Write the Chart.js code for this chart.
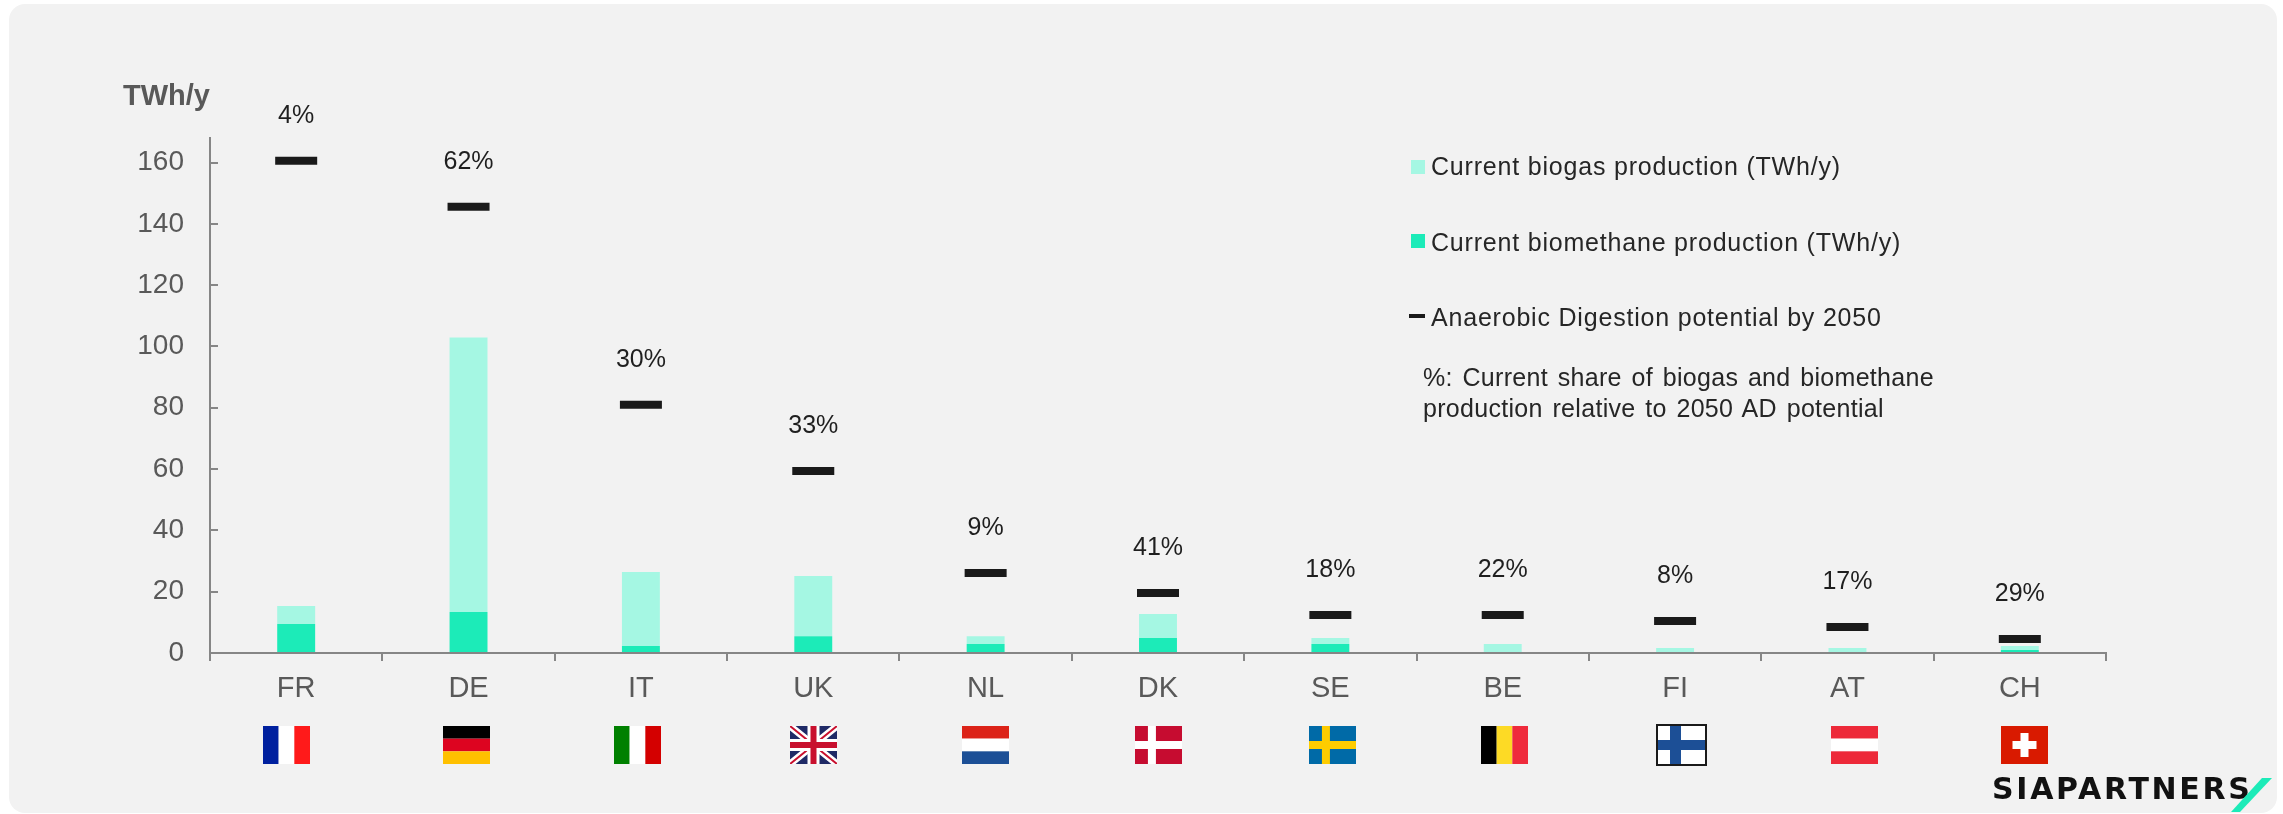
<!DOCTYPE html>
<html>
<head>
<meta charset="utf-8">
<script src="https://cdn.jsdelivr.net/npm/chart.js@4"></script>
<style>
  html, body { margin: 0; padding: 0; background: #fff; }
  #wrap { position: relative; width: 2283px; height: 814px; overflow: hidden; font-family: "Liberation Sans", Arial, sans-serif; }
  #panel { position: absolute; left: 9px; top: 4px; width: 2268px; height: 809px; background: #f2f2f2; border-radius: 16px; }
  canvas { position: absolute; left: 0; top: 0; }
  .txt { position: absolute; white-space: nowrap; color: #262626; font-size: 25px; line-height: 30px; letter-spacing: 0.8px; }
  .note { letter-spacing: 0.3px; word-spacing: 2.5px; }
  .swatch { position: absolute; width: 14px; height: 14px; }
  #unit { position: absolute; left: 123px; top: 78px; font-size: 29px; line-height: 34px; font-weight: bold; color: #595959; }
  #logo { position: absolute; left: 1992px; top: 771px; font-family: "DejaVu Sans", sans-serif; font-size: 30px; line-height: 36px; font-weight: bold; color: #111; letter-spacing: 2.7px; filter: blur(0.6px); }
</style>
</head>
<body>
<div id="wrap">
  <div id="panel"></div>
  <canvas id="chart" width="2283" height="814"></canvas>
  <div id="unit">TWh/y</div>

  <div class="swatch" style="left:1411px;top:160px;background:#a5f7e3"></div>
  <div class="txt" style="left:1431px;top:151px">Current biogas production (TWh/y)</div>
  <div class="swatch" style="left:1411px;top:234px;background:#1cebb8"></div>
  <div class="txt" style="left:1431px;top:227px">Current biomethane production (TWh/y)</div>
  <div class="swatch" style="left:1409px;top:314px;width:16px;height:4px;background:#1a1a1a"></div>
  <div class="txt" style="left:1431px;top:302px">Anaerobic Digestion potential by 2050</div>
  <div class="txt note" style="left:1423px;top:362px">%: Current share of biogas and biomethane</div>
  <div class="txt note" style="left:1423px;top:393px">production relative to 2050 AD potential</div>

  <div id="logo">SIAPARTNERS</div>
  <svg style="position:absolute;left:2225px;top:775px" width="52" height="39"><polygon points="37,3 47,3 15,37 6,37" fill="#1cebb8"/></svg>
</div>

<script>
// values (TWh/y)
const countries = ['FR', 'DE', 'IT', 'UK', 'NL', 'DK', 'SE', 'BE', 'FI', 'AT', 'CH'];
const biomethane = [9.5, 13.4, 2.3, 5.5, 2.9, 4.9, 2.9, 0, 0, 0, 1];
const biogas = [5.8, 89.5, 24.1, 19.6, 2.6, 7.8, 2, 2.9, 1.6, 1.6, 1.3];
const potential2050 = [160.6, 145.6, 81, 59.4, 26.1, 19.6, 12.4, 12.4, 10.4, 8.5, 4.6];
const shareLabels = ['4%', '62%', '30%', '33%', '9%', '41%', '18%', '22%', '8%', '17%', '29%'];

const AXIS_COLOR = '#868686';
const LABEL_COLOR = '#595959';
const FONT = '"Liberation Sans", Arial, sans-serif';

// flags, drawn under the country labels
const flagDraw = {
    FR: (c, x, y, w, h) => stripesV(c, x, y, w, h, ['#00209f', '#ffffff', '#ff1a1a']),
    DE: (c, x, y, w, h) => stripesH(c, x, y, w, h, ['#000000', '#dd0420', '#ffc000']),
    IT: (c, x, y, w, h) => stripesV(c, x, y, w, h, ['#008000', '#ffffff', '#d40000']),
    UK: drawUK,
    NL: (c, x, y, w, h) => stripesH(c, x, y, w, h, ['#dc2318', '#ffffff', '#1c4f96']),
    DK: (c, x, y, w, h) => cross(c, x, y, w, h, '#c60c30', '#ffffff', 0.36),
    SE: (c, x, y, w, h) => cross(c, x, y, w, h, '#006aa7', '#fecc00', 0.36),
    BE: (c, x, y, w, h) => stripesV(c, x, y, w, h, ['#000000', '#fdda25', '#ef2b3c']),
    FI: drawFI,
    AT: (c, x, y, w, h) => stripesH(c, x, y, w, h, ['#ed2939', '#ffffff', '#ed2939']),
    CH: drawCH
};
// how far each flag sits off its category centre
const flagShift = [-10, -2, -3, 0, 0, 0, 2, 2, 5, 7, 5];

function stripesV(c, x, y, w, h, cols) {
    cols.forEach((col, i) => { c.fillStyle = col; c.fillRect(x + i * w / 3, y, w / 3, h); });
}
function stripesH(c, x, y, w, h, cols) {
    cols.forEach((col, i) => { c.fillStyle = col; c.fillRect(x, y + i * h / 3, w, h / 3); });
}
function cross(c, x, y, w, h, bg, fg, pos) {
    c.fillStyle = bg;
    c.fillRect(x, y, w, h);
    c.fillStyle = fg;
    c.fillRect(x + w * pos - 4, y, 8, h);
    c.fillRect(x, y + h / 2 - 4, w, 8);
}
function drawUK(c, x, y, w, h) {
    c.save();
    c.beginPath();
    c.rect(x, y, w, h);
    c.clip();
    c.fillStyle = '#1f2a66';
    c.fillRect(x, y, w, h);
    c.strokeStyle = '#ffffff';
    c.lineWidth = 7;
    c.beginPath();
    c.moveTo(x, y); c.lineTo(x + w, y + h);
    c.moveTo(x + w, y); c.lineTo(x, y + h);
    c.stroke();
    c.strokeStyle = '#c8102e';
    c.lineWidth = 2;
    c.stroke();
    c.fillStyle = '#ffffff';
    c.fillRect(x + w / 2 - 6, y, 12, h);
    c.fillRect(x, y + h / 2 - 6, w, 12);
    c.fillStyle = '#c8102e';
    c.fillRect(x + w / 2 - 3, y, 6, h);
    c.fillRect(x, y + h / 2 - 3, w, 6);
    c.restore();
}
function drawFI(c, x, y, w, h) {
    c.fillStyle = '#1a1a1a';
    c.fillRect(x - 1, y - 2, w + 4, h + 4);
    c.fillStyle = '#ffffff';
    c.fillRect(x + 1, y, w, h);
    c.fillStyle = '#1c4f96';
    c.fillRect(x + 13, y, 11, h);
    c.fillRect(x + 1, y + h / 2 - 5, w, 10);
}
function drawCH(c, x, y, w, h) {
    c.fillStyle = '#d91a00';
    c.fillRect(x, y, w, h);
    c.fillStyle = '#ffffff';
    c.fillRect(x + w / 2 - 4, y + 7, 8, h - 14);
    c.fillRect(x + w / 2 - 12, y + h / 2 - 4, 24, 8);
}

// percent above each potential marker, flags under the axis
const extrasPlugin = {
    id: 'extras',
    afterDraw(chart) {
        const c = chart.ctx;
        const xs = chart.scales.x;
        const ys = chart.scales.y;
        c.save();
        c.font = '25px ' + FONT;
        c.fillStyle = '#1f1f1f';
        c.textAlign = 'center';
        c.textBaseline = 'middle';
        shareLabels.forEach((t, i) => {
            c.fillText(t, xs.getPixelForValue(i), ys.getPixelForValue(potential2050[i]) - 45);
        });
        countries.forEach((name, i) => {
            const w = 47, h = 38;
            const left = Math.round(xs.getPixelForValue(i) + flagShift[i] - w / 2);
            flagDraw[name](c, left, 726, w, h);
        });
        c.restore();
    }
};

new Chart(document.getElementById('chart'), {
    type: 'bar',
    data: {
        labels: countries,
        datasets: [
            { label: 'Current biomethane production (TWh/y)', data: biomethane, backgroundColor: '#1cebb8', stack: 'prod', order: 2 },
            { label: 'Current biogas production (TWh/y)', data: biogas, backgroundColor: '#a5f7e3', stack: 'prod', order: 2 },
            {
                type: 'line',
                label: 'Anaerobic Digestion potential by 2050',
                data: potential2050,
                showLine: false,
                pointStyle: 'line',
                pointRadius: 21,
                pointBorderWidth: 8,
                pointBorderColor: '#1a1a1a',
                order: 1
            }
        ]
    },
    options: {
        responsive: false,
        animation: false,
        layout: { padding: { left: 0, top: 138, right: 177, bottom: 0 } },
        plugins: { legend: { display: false }, tooltip: { enabled: false } },
        datasets: { bar: { barPercentage: 0.88, categoryPercentage: 0.25 } },
        scales: {
            x: {
                stacked: true,
                offset: true,
                afterFit: (s) => { s.height = 161; },
                border: { color: AXIS_COLOR, width: 2 },
                grid: { offset: true, drawOnChartArea: false, color: AXIS_COLOR, lineWidth: 2, tickLength: 8 },
                ticks: { color: LABEL_COLOR, font: { family: FONT, size: 29 }, padding: 11, maxRotation: 0 }
            },
            y: {
                stacked: true,
                min: 0,
                max: 168,
                afterFit: (s) => { s.width = 210; },
                border: { color: AXIS_COLOR, width: 2 },
                grid: { drawOnChartArea: false, color: AXIS_COLOR, lineWidth: 2, tickLength: -8 },
                ticks: { stepSize: 20, includeBounds: false, color: LABEL_COLOR, font: { family: FONT, size: 28 }, padding: 34 }
            }
        }
    },
    plugins: [extrasPlugin]
});
</script>
</body>
</html>
